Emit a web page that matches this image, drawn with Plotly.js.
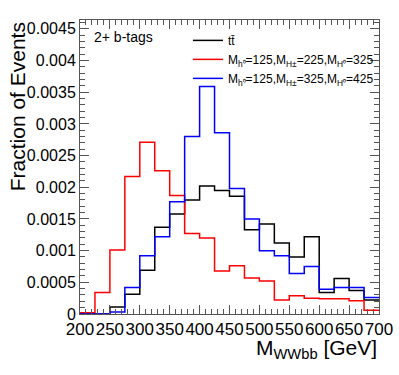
<!DOCTYPE html>
<html>
<head>
<meta charset="utf-8">
<script src="https://cdn.plot.ly/plotly-3.0.1.min.js"></script>
<style>
  body { margin: 0; }
  #chart { width: 399px; height: 375px; }
</style>
</head>
<body>
<div id="chart"></div>
<script>
// bin edges in GeV (25 GeV bins)
var binEdges = [200, 225, 250, 275, 300, 325, 350, 375, 400, 425, 450,
                475, 500, 525, 550, 575, 600, 625, 650, 675, 700];

var ttbar = [0, 0, 0.00011, 0.00031, 0.00069, 0.00137, 0.00158, 0.0018, 0.00202, 0.00195,
             0.00186, 0.00133, 0.00142, 0.00112, 0.0009, 0.00122, 0.00034, 0.00056, 0.00037, 0.00022];
var sig225 = [0.00002, 0.00034, 0.00101, 0.00217, 0.00271, 0.00226, 0.00187, 0.00127, 0.0012, 0.00068,
              0.00076, 0.00057, 0.00052, 0.00022, 0.00029, 0.00025, 0.00024, 0.00024, 0.00021, 0.00006];
var sig325 = [0, 0, 0.00003, 0.00042, 0.00092, 0.00122, 0.00177, 0.0028, 0.00359, 0.00286,
              0.00198, 0.0015, 0.001, 0.00092, 0.00064, 0.00075, 0.00039, 0.00042, 0.00042, 0.00026];

var seriesNames = ['tt\u0304',
                   'M<sub>h\u2070</sub>=125,M<sub>H\u00b1</sub>=225,M<sub>H\u2070</sub>=325',
                   'M<sub>h\u2070</sub>=125,M<sub>H\u00b1</sub>=325,M<sub>H\u2070</sub>=425'];
var seriesColors = ['#000000', '#ff0000', '#0000ff'];

var yTickVals = [0, 0.0005, 0.001, 0.0015, 0.002, 0.0025, 0.003, 0.0035, 0.004, 0.0045];
var yTickText = ['0', '0.0005', '0.001', '0.0015', '0.002', '0.0025', '0.003', '0.0035', '0.004', '0.0045'];

// repeat the last bin so the 'hv' step reaches the upper edge
function stepY(vals) {
    return vals.concat([vals[vals.length - 1]]);
}

var data = [ttbar, sig225, sig325].map(function (vals, i) {
    return {
        x: binEdges,
        y: stepY(vals),
        type: 'scatter',
        mode: 'lines',
        line: {shape: 'hv', color: seriesColors[i], width: 1.5},
        name: seriesNames[i]
    };
});

var font = 'Liberation Sans, Arial, Helvetica, sans-serif';

var layout = {
    width: 399,
    height: 375,
    margin: {l: 80, r: 20, t: 20, b: 61},
    paper_bgcolor: '#ffffff',
    plot_bgcolor: '#ffffff',
    font: {family: font, size: 16, color: '#000000'},
    showlegend: true,
    legend: {
        x: 0.361, y: 0.98, xanchor: 'left', yanchor: 'top',
        bgcolor: 'rgba(0,0,0,0)',
        font: {size: 12, family: font},
        itemwidth: 30,
        tracegroupgap: 0
    },
    xaxis: {
        range: [200, 700],
        tick0: 200, dtick: 50,
        tickangle: 0,
        ticks: 'inside', ticklen: 9, tickcolor: '#555',
        minor: {dtick: 10, ticks: 'inside', ticklen: 5, tickcolor: '#555'},
        showgrid: false, zeroline: false,
        showline: true, linecolor: '#555', linewidth: 1, mirror: 'ticks',
        tickfont: {size: 17}
    },
    yaxis: {
        range: [0, 0.00464],
        tickmode: 'array', tickvals: yTickVals, ticktext: yTickText,
        ticks: 'inside', ticklen: 9, tickcolor: '#555',
        minor: {dtick: 0.0001, ticks: 'inside', ticklen: 5, tickcolor: '#555'},
        showgrid: false, zeroline: false,
        showline: true, linecolor: '#555', linewidth: 1, mirror: 'ticks',
        tickfont: {size: 16}
    },
    annotations: [
        {text: '2+ b-tags', xref: 'paper', yref: 'paper', x: 0.04, y: 0.975,
         xanchor: 'left', yanchor: 'top', showarrow: false, font: {size: 14}},
        {text: 'Fraction of Events', textangle: -90, xref: 'paper', yref: 'paper',
         x: -0.21, y: 0.998, xanchor: 'center', yanchor: 'top', showarrow: false,
         font: {size: 21}},
        {text: 'M<sub>WWbb</sub> [GeV]', xref: 'paper', yref: 'paper',
         x: 1, y: -0.067, xanchor: 'right', yanchor: 'top', showarrow: false,
         font: {size: 21}}
    ]
};

Plotly.newPlot('chart', data, layout, {displayModeBar: false, staticPlot: true});
</script>
</body>
</html>
